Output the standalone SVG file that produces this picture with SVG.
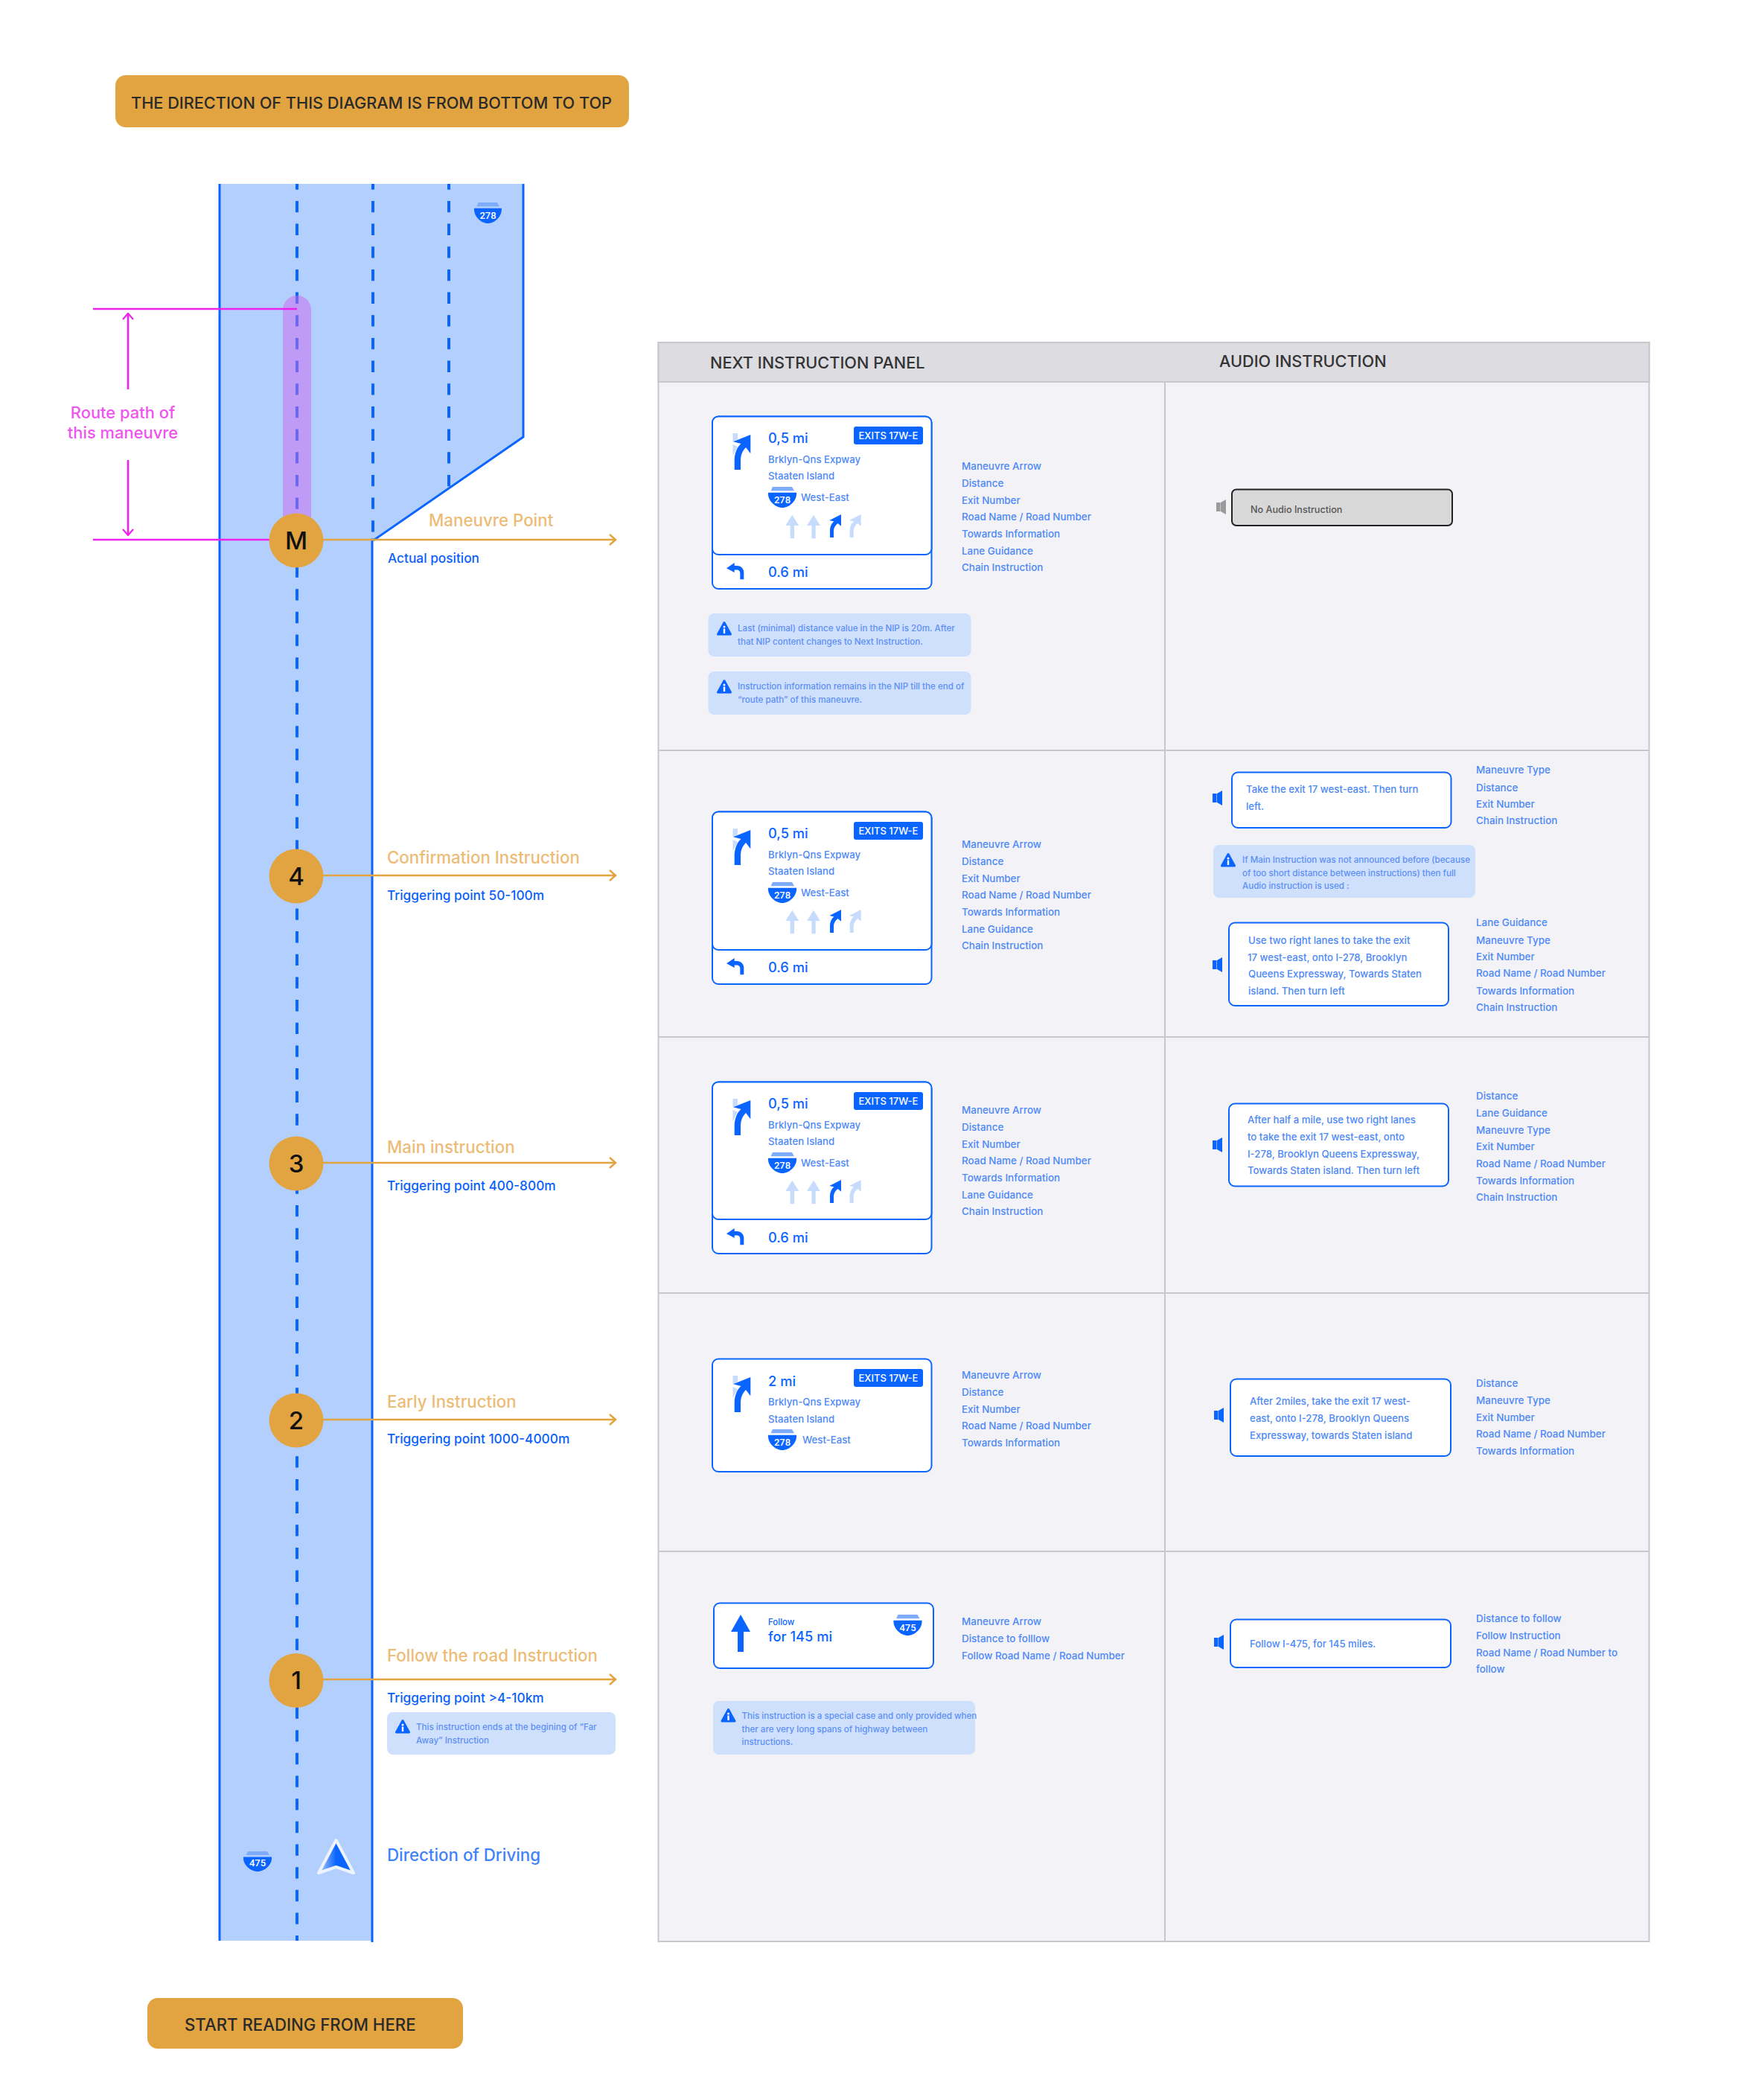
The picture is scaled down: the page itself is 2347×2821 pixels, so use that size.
<svg xmlns="http://www.w3.org/2000/svg" width="2347" height="2821" viewBox="0 0 2347 2821">
<style>
text{font-family:"Inter","Liberation Sans",sans-serif}
.lb{font-size:13.45px;fill:#4d88f7;font-weight:500}
.nt{font-size:11.6px;fill:#5c8ff5;font-weight:500}
.au{font-size:13.2px;fill:#4d88f7;font-weight:500}
.dist{font-size:18.3px;fill:#0a64ff;font-weight:500}
.rd{font-size:13.2px;fill:#4d88f7;font-weight:500}
.ex{font-size:13px;fill:#fff;font-weight:500;text-anchor:middle}
.sh{font-size:13px;fill:#fff;font-weight:500;text-anchor:middle;font-family:"Roboto",sans-serif}
.ttl{font-size:22.3px;fill:#ecbc77;font-weight:500}
.trg{font-size:17.3px;fill:#0a5ffa;font-weight:500}
.num{font-size:33px;fill:#111;font-weight:500;text-anchor:middle}
.hd{font-size:21.7px;fill:#333;font-weight:500}
.ban{font-size:21.7px;fill:#2a2a2a;font-weight:500}
.card{fill:#fff;stroke:#0a64ff;stroke-width:2}
.note{fill:#cfe0fd}
.or{stroke:#e2a440;stroke-width:2.6;fill:none}
.mg{stroke:#ee22ee;stroke-width:2.6;fill:none}
.dash{stroke:#0a64ff;stroke-width:4;fill:none;stroke-dasharray:15.33 15.33;stroke-dashoffset:7.7}
.edge{stroke:#0a64ff;stroke-width:3;fill:none}
.grid{stroke:#c8c8cc;stroke-width:2}
</style>
<defs>
<marker id="ao" viewBox="0 0 11 16" refX="9.500" refY="8" markerWidth="11" markerHeight="16" markerUnits="userSpaceOnUse" orient="auto"><path d="M1.500 1L9.500 8L1.500 15" fill="none" stroke="#e2a440" stroke-width="2.500"/></marker>
<marker id="am" viewBox="0 0 10 16" refX="9" refY="8" markerWidth="10" markerHeight="16" markerUnits="userSpaceOnUse" orient="auto"><path d="M1 1L9 8L1 15" fill="none" stroke="#ee22ee" stroke-width="2.200"/></marker>
<linearGradient id="nav" x1="0" y1="0" x2="1" y2="0"><stop offset="0" stop-color="#b5cffd"/><stop offset="0.5" stop-color="#0a64ff"/></linearGradient>
<g id="big">
<polygon points="984.5,582 991,582 991,590 984.5,593.5" fill="#c7dbfd"/>
<polygon points="984.5,597 991,600 984.5,612" fill="#c7dbfd"/>
<path d="M986.7 631V619C986.7 609 990 601 995.5 596L985 593.3L1008.3 584V609.3L1002 601C997 606 995 612 995 619V631Z" fill="#0a64ff"/>
</g>
<path id="st" d="M1064.3 691.7L1073.3 706H1067V723.3H1061.7V706H1055.3Z" fill="#c7dbfd"/>
<path id="cv" d="M1115 722V713C1115 708 1117 703 1120.5 700.5L1114.3 699L1130 691V706.7L1125.5 703C1122 706 1120 709 1120 713V722Z"/>
<g id="lanes">
<use href="#st"/><use href="#st" x="28.7"/>
<use href="#cv" fill="#0a64ff"/><use href="#cv" x="26.7" fill="#c7dbfd"/>
</g>
<path id="turn" d="M976 763.3L986.7 756V760H990C995.5 760 999.3 764 999.3 769V778.3H994.3V770C994.3 767 992.5 765.5 990 765.5H986.7V769Z" fill="#0a64ff"/>
<g id="shield">
<polygon points="3.5,5.3 6,0 32,0 35,5.3" fill="#7fabfb"/>
<path d="M0 7.7H38C39 18 29 28 19 28C9 28 -1 18 0 7.7Z" fill="#0a64ff"/>
</g>
<g id="spk"><rect x="0" y="4" width="5.5" height="12"/><polygon points="6,4 13,0 13,20 6,16"/></g>
<g id="warn">
<path d="M10 1.5L18.5 17H1.5Z" fill="#0a64ff" stroke="#0a64ff" stroke-width="3" stroke-linejoin="round"/>
<circle cx="10" cy="7" r="1.5" fill="#fff"/><rect x="8.8" y="9.5" width="2.4" height="6.5" fill="#fff"/>
</g>
</defs>
<rect width="2347" height="2821" fill="#fff"/>

<g id="banner-top"><rect x="155" y="101" width="690" height="70" rx="14" fill="#e2a440"/><text class="ban" x="176" y="146">THE DIRECTION OF THIS DIAGRAM IS FROM BOTTOM TO TOP</text></g>
<g id="banner-bottom"><rect x="198" y="2684" width="424" height="68" rx="14" fill="#e2a440"/><text class="ban" style="font-size:22.2px" x="248" y="2728">START READING FROM HERE</text></g>

<g id="road">
<path d="M295 247H703V587L501 725V2607H295Z" fill="#b2cffe"/>
<path class="edge" d="M295 247V2607"/>
<path class="edge" d="M703 247V587L503 725H500V2609"/>
<path class="dash" d="M399 247V2607"/>
<path class="dash" d="M501 247V725"/>
<path class="dash" d="M603 247V655"/>
<rect x="380" y="397" width="38" height="340" rx="19" fill="#ce67ec" fill-opacity="0.5"/>
<use href="#shield" transform="translate(637,272) scale(0.97,1)"/><text class="sh" x="655.5" y="294">278</text>
<use href="#shield" transform="translate(327,2487) scale(1,0.96)"/><text class="sh" x="346" y="2507">475</text>
<path d="M451.5 2472L475 2516L451.5 2508L428 2516Z" fill="url(#nav)" stroke="#eef3fe" stroke-width="4" stroke-linejoin="round"/>
</g>

<g id="connectors">
<path class="mg" d="M125 415H399"/>
<path class="mg" d="M125 725H362"/>
<path class="mg" d="M172 523V421" marker-end="url(#am)"/>
<path class="mg" d="M172 618V719" marker-end="url(#am)"/>
<path class="or" d="M434 725H827" marker-end="url(#ao)"/>
<path class="or" d="M434 1176H827" marker-end="url(#ao)"/>
<path class="or" d="M434 1562H827" marker-end="url(#ao)"/>
<path class="or" d="M434 1907H827" marker-end="url(#ao)"/>
<path class="or" d="M434 2256H827" marker-end="url(#ao)"/>
</g>

<g id="route-label"><text x="165" y="562" font-size="21.9" font-weight="500" fill="#ee55ee" text-anchor="middle">Route path of</text><text x="165" y="589" font-size="21.9" font-weight="500" fill="#ee55ee" text-anchor="middle">this maneuvre</text></g>

<g id="node-m"><circle cx="398" cy="726" r="36.5" fill="#e2a440"/><text class="num" x="398" y="738">M</text>
<text class="ttl" x="576" y="707">Maneuvre Point</text><text class="trg" x="521" y="756">Actual position</text></g>
<g id="node-4"><circle cx="398" cy="1177" r="36.5" fill="#e2a440"/><text class="num" x="398" y="1189">4</text>
<text class="ttl" x="520" y="1160">Confirmation Instruction</text><text class="trg" x="520" y="1209">Triggering point 50-100m</text></g>
<g id="node-3"><circle cx="398" cy="1563" r="36.5" fill="#e2a440"/><text class="num" x="398" y="1575">3</text>
<text class="ttl" x="520" y="1549">Main instruction</text><text class="trg" x="520" y="1599">Triggering point 400-800m</text></g>
<g id="node-2"><circle cx="398" cy="1908" r="36.5" fill="#e2a440"/><text class="num" x="398" y="1920">2</text>
<text class="ttl" x="520" y="1891">Early Instruction</text><text class="trg" x="520" y="1939">Triggering point 1000-4000m</text></g>
<g id="node-1"><circle cx="398" cy="2257.5" r="36.5" fill="#e2a440"/><text class="num" x="398" y="2269">1</text>
<text class="ttl" x="520" y="2232">Follow the road Instruction</text><text class="trg" x="520" y="2287">Triggering point &gt;4-10km</text>
<rect class="note" x="520" y="2300" width="307" height="57" rx="8"/><use href="#warn" x="531" y="2310"/>
<text class="nt" x="559" y="2324">This instruction ends at the begining of “Far</text><text class="nt" x="559" y="2342">Away” Instruction</text></g>
<g id="direction"><text x="520" y="2500" font-size="22.3" font-weight="500" fill="#3f82fa">Direction of Driving</text></g>

<g id="table">
<rect x="884.5" y="460" width="1331" height="2148" fill="#f2f2f7" class="grid"/>
<rect x="884.5" y="460" width="1331" height="53" fill="#dcdce1" class="grid"/>
<path class="grid" fill="none" d="M1565 513V2608M885 1008H2215M885 1393H2215M885 1737H2215M885 2084H2215"/>
<text class="hd" x="954" y="495">NEXT INSTRUCTION PANEL</text>
<text class="hd" x="1638" y="493">AUDIO INSTRUCTION</text>
</g>

<g id="nip-m">
<rect class="card" x="957" y="559.5" width="294.5" height="231.5" rx="8"/><rect class="card" x="957" y="559.5" width="294.5" height="185.5" rx="8"/>
<use href="#big"/><use href="#lanes"/><use href="#turn"/>
<text class="dist" x="1032" y="595">0,5 mi</text>
<rect x="1147" y="573" width="93" height="24" rx="3" fill="#0a64ff"/><text class="ex" x="1193.5" y="590">EXITS 17W-E</text>
<text class="rd" x="1032" y="622">Brklyn-Qns Expway</text><text class="rd" x="1032" y="644">Staaten Island</text>
<use href="#shield" x="1032" y="654"/><text class="sh" x="1051" y="675.5">278</text>
<text class="rd" x="1076" y="673">West-East</text>
<text class="dist" x="1032" y="775">0.6 mi</text>
</g>
<g id="nip-m-labels">
<text class="lb" x="1292" y="631">Maneuvre Arrow</text><text class="lb" x="1292" y="654">Distance</text><text class="lb" x="1292" y="677">Exit Number</text><text class="lb" x="1292" y="699">Road Name / Road Number</text><text class="lb" x="1292" y="722">Towards Information</text><text class="lb" x="1292" y="745">Lane Guidance</text><text class="lb" x="1292" y="767">Chain Instruction</text>
</g>
<g id="nip-m-notes">
<rect class="note" x="951.5" y="824" width="353" height="58" rx="8"/><use href="#warn" x="963" y="835"/>
<text class="nt" x="991" y="848">Last (minimal) distance value in the NIP is 20m. After</text><text class="nt" x="991" y="866">that NIP content changes to Next Instruction.</text>
<rect class="note" x="951.5" y="902" width="353" height="58" rx="8"/><use href="#warn" x="963" y="913"/>
<text class="nt" x="991" y="926">Instruction information remains in the NIP till the end of</text><text class="nt" x="991" y="944">“route path” of this maneuvre.</text>
</g>
<g id="audio-m">
<use href="#spk" x="1634" y="671" fill="#9a9a9a"/>
<rect x="1655" y="657.5" width="296" height="48.5" rx="6" fill="#d8d8d8" stroke="#222" stroke-width="2"/>
<text x="1680" y="689" font-size="12.6" font-weight="500" fill="#555">No Audio Instruction</text>
</g>

<g id="nip-4" transform="translate(0,531)">
<rect class="card" x="957" y="559.5" width="294.5" height="231.5" rx="8"/><rect class="card" x="957" y="559.5" width="294.5" height="185.5" rx="8"/>
<use href="#big"/><use href="#lanes"/><use href="#turn"/>
<text class="dist" x="1032" y="595">0,5 mi</text>
<rect x="1147" y="573" width="93" height="24" rx="3" fill="#0a64ff"/><text class="ex" x="1193.5" y="590">EXITS 17W-E</text>
<text class="rd" x="1032" y="622">Brklyn-Qns Expway</text><text class="rd" x="1032" y="644">Staaten Island</text>
<use href="#shield" x="1032" y="654"/><text class="sh" x="1051" y="675.5">278</text>
<text class="rd" x="1076" y="673">West-East</text>
<text class="dist" x="1032" y="775">0.6 mi</text>
</g>
<g id="nip-4-labels" transform="translate(0,508)">
<text class="lb" x="1292" y="631">Maneuvre Arrow</text><text class="lb" x="1292" y="654">Distance</text><text class="lb" x="1292" y="677">Exit Number</text><text class="lb" x="1292" y="699">Road Name / Road Number</text><text class="lb" x="1292" y="722">Towards Information</text><text class="lb" x="1292" y="745">Lane Guidance</text><text class="lb" x="1292" y="767">Chain Instruction</text>
</g>
<g id="audio-4">
<use href="#spk" x="1629" y="1062" fill="#0a64ff"/>
<rect class="card" x="1655" y="1037.5" width="294.5" height="74.5" rx="8"/>
<text class="au" x="1674" y="1065">Take the exit 17 west-east. Then turn</text><text class="au" x="1674" y="1088">left.</text>
<text class="lb" x="1983" y="1039">Maneuvre Type</text><text class="lb" x="1983" y="1063">Distance</text><text class="lb" x="1983" y="1085">Exit Number</text><text class="lb" x="1983" y="1107">Chain Instruction</text>
<rect class="note" x="1630" y="1135" width="352" height="71" rx="8"/><use href="#warn" x="1640" y="1146"/>
<text class="nt" x="1669" y="1159">If Main Instruction was not announced before (because</text><text class="nt" x="1669" y="1177">of too short distance between instructions) then full</text><text class="nt" x="1669" y="1194">Audio instruction is used :</text>
<use href="#spk" x="1629" y="1286" fill="#0a64ff"/>
<rect class="card" x="1651" y="1239.5" width="295" height="111.5" rx="8"/>
<text class="au" x="1677" y="1268">Use two right lanes to take the exit</text><text class="au" x="1676" y="1291">17 west-east, onto I-278, Brooklyn</text><text class="au" x="1677" y="1313">Queens Expressway, Towards Staten</text><text class="au" x="1677" y="1336">island. Then turn left</text>
<text class="lb" x="1983" y="1244">Lane Guidance</text><text class="lb" x="1983" y="1268">Maneuvre Type</text><text class="lb" x="1983" y="1290">Exit Number</text><text class="lb" x="1983" y="1312">Road Name / Road Number</text><text class="lb" x="1983" y="1336">Towards Information</text><text class="lb" x="1983" y="1358">Chain Instruction</text>
</g>

<g id="nip-3" transform="translate(0,894)">
<rect class="card" x="957" y="559.5" width="294.5" height="230.5" rx="8"/><rect class="card" x="957" y="559.5" width="294.5" height="184.5" rx="8"/>
<use href="#big"/><use href="#lanes"/><use href="#turn"/>
<text class="dist" x="1032" y="595">0,5 mi</text>
<rect x="1147" y="573" width="93" height="24" rx="3" fill="#0a64ff"/><text class="ex" x="1193.5" y="590">EXITS 17W-E</text>
<text class="rd" x="1032" y="622">Brklyn-Qns Expway</text><text class="rd" x="1032" y="644">Staaten Island</text>
<use href="#shield" x="1032" y="654"/><text class="sh" x="1051" y="675.5">278</text>
<text class="rd" x="1076" y="673">West-East</text>
<text class="dist" x="1032" y="775">0.6 mi</text>
</g>
<g id="nip-3-labels" transform="translate(0,865)">
<text class="lb" x="1292" y="631">Maneuvre Arrow</text><text class="lb" x="1292" y="654">Distance</text><text class="lb" x="1292" y="677">Exit Number</text><text class="lb" x="1292" y="699">Road Name / Road Number</text><text class="lb" x="1292" y="722">Towards Information</text><text class="lb" x="1292" y="745">Lane Guidance</text><text class="lb" x="1292" y="767">Chain Instruction</text>
</g>
<g id="audio-3">
<use href="#spk" x="1629" y="1528" fill="#0a64ff"/>
<rect class="card" x="1651" y="1482.5" width="295" height="111" rx="8"/>
<text class="au" x="1676" y="1509">After half a mile, use two right lanes</text><text class="au" x="1676" y="1532">to take the exit 17 west-east, onto</text><text class="au" x="1676" y="1555">I-278, Brooklyn Queens Expressway,</text><text class="au" x="1676" y="1577">Towards Staten island. Then turn left</text>
<text class="lb" x="1983" y="1477">Distance</text><text class="lb" x="1983" y="1500">Lane Guidance</text><text class="lb" x="1983" y="1523">Maneuvre Type</text><text class="lb" x="1983" y="1545">Exit Number</text><text class="lb" x="1983" y="1568">Road Name / Road Number</text><text class="lb" x="1983" y="1591">Towards Information</text><text class="lb" x="1983" y="1613">Chain Instruction</text>
</g>

<g id="nip-2">
<rect class="card" x="957" y="1825.5" width="294.5" height="151.5" rx="8"/>
<use href="#big" y="1266"/>
<text class="dist" x="1032" y="1862">2 mi</text>
<rect x="1147" y="1839" width="93" height="24" rx="3" fill="#0a64ff"/><text class="ex" x="1193.5" y="1856">EXITS 17W-E</text>
<text class="rd" x="1032" y="1888">Brklyn-Qns Expway</text><text class="rd" x="1032" y="1911">Staaten Island</text>
<use href="#shield" x="1032" y="1920"/><text class="sh" x="1051" y="1941.5">278</text>
<text class="rd" x="1078" y="1939">West-East</text>
<text class="lb" x="1292" y="1852">Maneuvre Arrow</text><text class="lb" x="1292" y="1875">Distance</text><text class="lb" x="1292" y="1898">Exit Number</text><text class="lb" x="1292" y="1920">Road Name / Road Number</text><text class="lb" x="1292" y="1943">Towards Information</text>
</g>
<g id="audio-2">
<use href="#spk" x="1631" y="1891" fill="#0a64ff"/>
<rect class="card" x="1653" y="1852.5" width="296" height="103.5" rx="8"/>
<text class="au" x="1679" y="1887">After 2miles, take the exit 17 west-</text><text class="au" x="1679" y="1910">east, onto I-278, Brooklyn Queens</text><text class="au" x="1679" y="1933">Expressway, towards Staten island</text>
<text class="lb" x="1983" y="1863">Distance</text><text class="lb" x="1983" y="1886">Maneuvre Type</text><text class="lb" x="1983" y="1909">Exit Number</text><text class="lb" x="1983" y="1931">Road Name / Road Number</text><text class="lb" x="1983" y="1954">Towards Information</text>
</g>

<g id="nip-1">
<rect class="card" x="959" y="2153.5" width="295" height="87.5" rx="8"/>
<path d="M995 2169L1008 2192H999V2219H991V2192H982Z" fill="#0a64ff"/>
<text x="1032" y="2183" font-size="11.5" font-weight="500" fill="#0a64ff">Follow</text>
<text class="dist" x="1032" y="2205">for 145 mi</text>
<use href="#shield" x="1200.5" y="2169"/><text class="sh" x="1219.5" y="2191">475</text>
<text class="lb" x="1292" y="2183">Maneuvre Arrow</text><text class="lb" x="1292" y="2206">Distance to folllow</text><text class="lb" x="1292" y="2229">Follow Road Name / Road Number</text>
<rect class="note" x="958" y="2285" width="352" height="72" rx="8"/><use href="#warn" x="968.5" y="2295"/>
<text class="nt" x="996.5" y="2309">This instruction is a special case and only provided when</text><text class="nt" x="996.5" y="2327">ther are very long spans of highway between</text><text class="nt" x="996.5" y="2344">instructions.</text>
</g>
<g id="audio-1">
<use href="#spk" x="1631" y="2196" fill="#0a64ff"/>
<rect class="card" x="1653" y="2175.5" width="296" height="64.500" rx="8"/>
<text class="au" x="1679" y="2213">Follow I-475, for 145 miles.</text>
<text class="lb" x="1983" y="2179">Distance to follow</text><text class="lb" x="1983" y="2202">Follow Instruction</text><text class="lb" x="1983" y="2225">Road Name / Road Number to</text><text class="lb" x="1983" y="2247">follow</text>
</g>
</svg>
